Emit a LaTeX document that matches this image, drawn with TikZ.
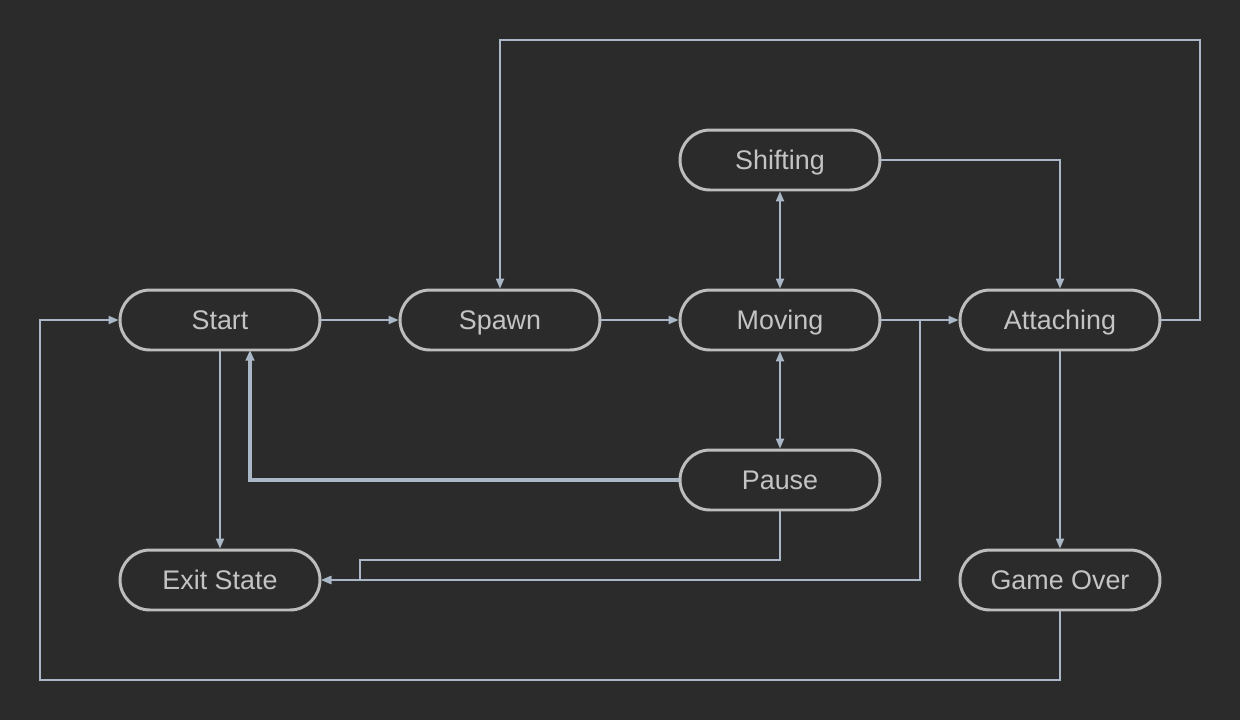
\documentclass[tikz,border=0pt]{standalone}
\usepackage{fontspec}
\setmainfont{Liberation Sans}
\usetikzlibrary{arrows.meta}
\definecolor{bg}{HTML}{2B2B2B}
\definecolor{nodeborder}{HTML}{BDBDBD}
\definecolor{nodetext}{HTML}{C4C4C4}
\definecolor{edgecol}{HTML}{A9B7C6}
\begin{document}
\begin{tikzpicture}[x=0.02cm,y=-0.02cm,
  state/.style={draw=nodeborder, fill=bg, line width=1.7pt, rectangle, rounded corners=0.6cm,
    minimum width=4cm, minimum height=1.2cm, text=nodetext, font=\fontsize{15.3}{18}\selectfont,
    inner sep=0pt, text height=11pt, text depth=0pt},
  conn/.style={draw=edgecol, line width=0.85pt, -{Triangle[length=5.6pt,width=4.6pt]}},
  both/.style={conn, {Triangle[length=5.6pt,width=4.6pt]}-{Triangle[length=5.6pt,width=4.6pt]}},
  thick conn/.style={conn, line width=1.9pt, -{Triangle[length=6pt,width=4.8pt]}}]
\fill[bg] (0,0) rectangle (1240,720);
\useasboundingbox (0,0) rectangle (1240,720);

\node[state] (start) at (220,320) {Start};
\node[state] (spawn) at (500,320) {Spawn};
\node[state] (moving) at (780,320) {Moving};
\node[state] (attach) at (1060,320) {Attaching};
\node[state] (shift) at (780,160) {Shifting};
\node[state] (pause) at (780,480) {Pause};
\node[state] (exit) at (220,580) {Exit State};
\node[state] (over) at (1060,580) {Game Over};

\coordinate (j1) at (920,320);

\draw[conn] (start) -- (spawn);
\draw[conn] (spawn) -- (moving);
\draw[conn] (moving) -- (attach);
\draw[both] (shift) -- (moving);
\draw[both] (moving) -- (pause);
\draw[conn] (shift.east) -- (1060,160) -- (attach.north);
\draw[conn] (attach.east) -- (1200,320) -- (1200,40) -- (500,40) -- (spawn.north);
\draw[conn] (attach) -- (over);
\draw[conn] (over.south) -- (1060,680) -- (40,680) -- (40,320) -- (start.west);
\draw[conn] (start) -- (exit);
\draw[thick conn] (pause.west) -- (250,480) -- (250,350);
\draw[conn] (pause.south) -- (780,560) -- (360,560) -- (360,580) -- (exit.east);
\draw[conn] (j1) -- (920,580) -- (exit.east);
\end{tikzpicture}
\end{document}
